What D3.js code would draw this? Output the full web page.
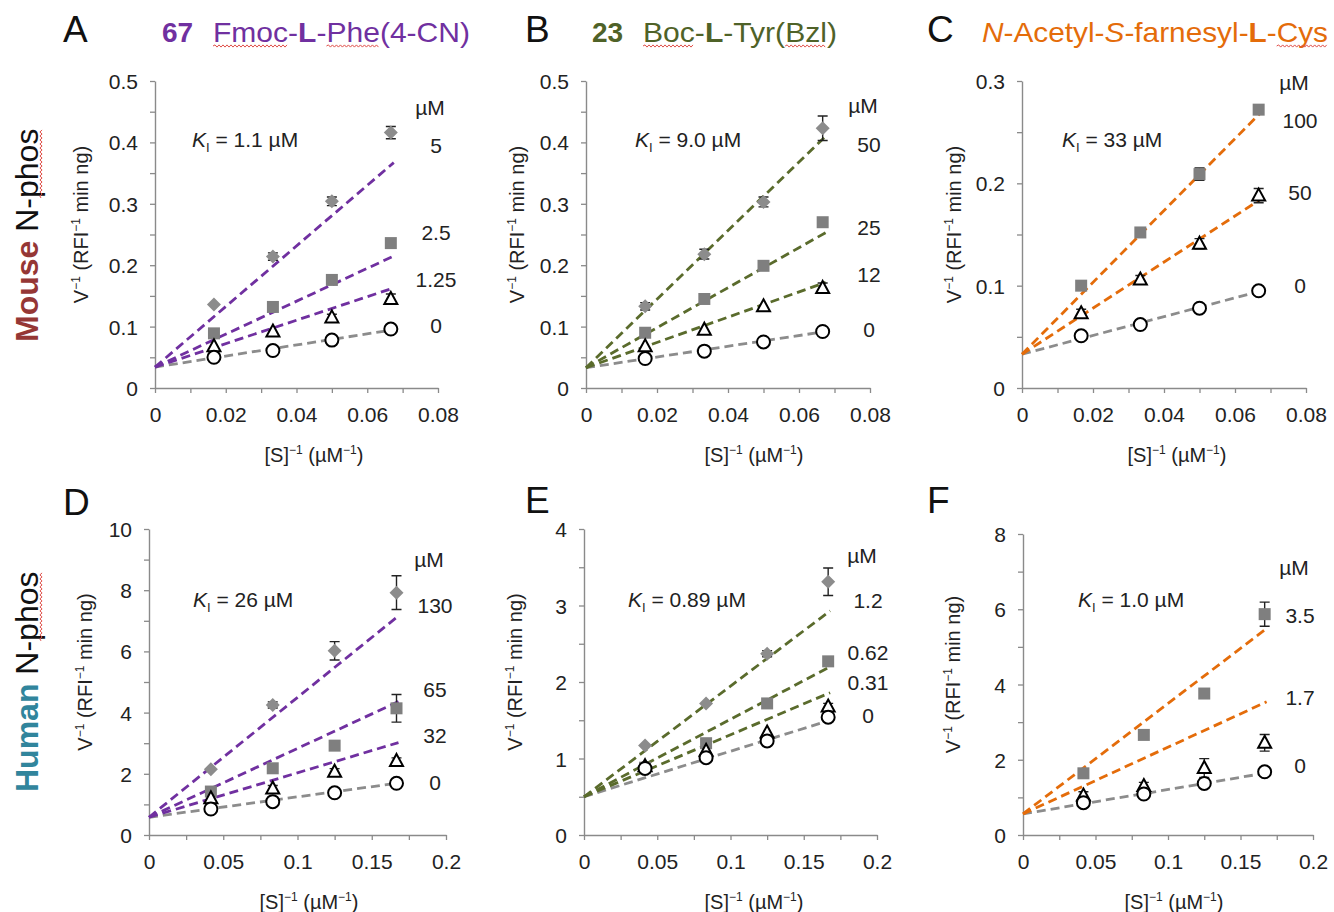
<!DOCTYPE html>
<html><head><meta charset="utf-8">
<script src="https://cdn.jsdelivr.net/npm/d3@7"></script>
<style>
body{margin:0;background:#fff}
svg{display:block}
text{font-family:"Liberation Sans",Arial,sans-serif;white-space:pre}
</style>
</head><body>
<svg id="chart" width="1334" height="912"></svg>
<script>
// ---------------- DATA ----------------
const xTop = [1/60, 1/30, 1/20, 1/15];      // [S]^-1, mouse
const xBottom = [1/24, 1/12, 1/8, 1/6];     // [S]^-1, human

const xTicksTop = [0, 0.02, 0.04, 0.06, 0.08];
const xTicksBottom = [0, 0.05, 0.1, 0.15, 0.2];
const yTicksA = [0, 0.1, 0.2, 0.3, 0.4, 0.5];
const yTicksB = [0, 0.1, 0.2, 0.3, 0.4, 0.5];
const yTicksC = [0, 0.1, 0.2, 0.3];
const yTicksD = [0, 2, 4, 6, 8, 10];
const yTicksE = [0, 1, 2, 3, 4];
const yTicksF = [0, 2, 4, 6, 8];

const panelLetters = ["A", "B", "C", "D", "E", "F"];
const kiValues = ["1.1", "9.0", "33", "26", "0.89", "1.0"];

// Panel A – Fmoc-L-Phe(4-CN), mouse
const concA = ["0", "1.25", "2.5", "5"];
const valA0 = [0.050, 0.061, 0.078, 0.096];
const valA1 = [0.068, 0.092, 0.115, 0.145];
const valA2 = [0.089, 0.132, 0.176, 0.236];
const valA3 = [0.136, 0.214, 0.304, 0.416];
const errA0 = [0.002, 0.002, 0.002, 0.002];
const errA1 = [0.003, 0.004, 0.005, 0.008];
const errA2 = [0.003, 0.003, 0.004, 0.004];
const errA3 = [0.004, 0.006, 0.007, 0.010];
const fitA = {intercept: 0.034, ends: [0.095, 0.163, 0.215, 0.367]};

// Panel B – Boc-L-Tyr(Bzl), mouse
const concB = ["0", "12", "25", "50"];
const valB0 = [0.048, 0.060, 0.075, 0.092];
const valB1 = [0.068, 0.095, 0.133, 0.163];
const valB2 = [0.090, 0.145, 0.199, 0.270];
const valB3 = [0.133, 0.218, 0.303, 0.423];
const errB0 = [0.002, 0.002, 0.002, 0.002];
const errB1 = [0.003, 0.003, 0.004, 0.008];
const errB2 = [0.003, 0.003, 0.003, 0.004];
const errB3 = [0.006, 0.008, 0.008, 0.020];
const fitB = {intercept: 0.033, ends: [0.092, 0.172, 0.253, 0.410]};

// Panel C – N-Acetyl-S-farnesyl-L-Cys, mouse
const concC = ["0", "50", "100"];
const valC0 = [0.051, 0.062, 0.078, 0.095];
const valC1 = [0.073, 0.106, 0.141, 0.188];
const valC2 = [0.100, 0.152, 0.209, 0.272];
const errC0 = [0.002, 0.002, 0.002, 0.002];
const errC1 = [0.004, 0.004, 0.005, 0.007];
const errC2 = [0.003, 0.003, 0.006, 0.003];
const fitC = {intercept: 0.033, ends: [0.095, 0.185, 0.270]};

// Panel D – Fmoc-L-Phe(4-CN), human
const concD = ["0", "32", "65", "130"];
const valD0 = [0.85, 1.09, 1.38, 1.69];
const valD1 = [1.20, 1.52, 2.07, 2.42];
const valD2 = [1.42, 2.18, 2.92, 4.14];
const valD3 = [2.15, 4.25, 6.02, 7.92];
const errD0 = [0.04, 0.05, 0.05, 0.05];
const errD1 = [0.05, 0.10, 0.10, 0.10];
const errD2 = [0.05, 0.08, 0.10, 0.45];
const errD3 = [0.08, 0.10, 0.30, 0.55];
const fitD = {intercept: 0.58, ends: [1.70, 3.02, 4.36, 7.16]};

// Panel E – Boc-L-Tyr(Bzl), human
const concE = ["0", "0.31", "0.62", "1.2"];
const valE0 = [0.87, 1.01, 1.23, 1.54];
const valE1 = [0.90, 1.10, 1.34, 1.68];
const valE2 = [0.88, 1.20, 1.72, 2.27];
const valE3 = [1.17, 1.72, 2.37, 3.31];
const errE0 = [0.02, 0.02, 0.03, 0.03];
const errE1 = [0.02, 0.03, 0.03, 0.04];
const errE2 = [0.02, 0.03, 0.03, 0.04];
const errE3 = [0.03, 0.03, 0.04, 0.18];
const fitE = {intercept: 0.50, ends: [1.50, 1.86, 2.20, 2.93]};

// Panel F – N-Acetyl-S-farnesyl-L-Cys, human
const concF = ["0", "1.7", "3.5"];
const valF0 = [0.86, 1.09, 1.37, 1.68];
const valF1 = [1.05, 1.30, 1.78, 2.45];
const valF2 = [1.64, 2.66, 3.76, 5.87];
const errF0 = [0.03, 0.03, 0.04, 0.04];
const errF1 = [0.10, 0.10, 0.25, 0.22];
const errF2 = [0.05, 0.05, 0.05, 0.32];
const fitF = {intercept: 0.56, ends: [1.65, 3.54, 5.49]};

// ---------------- STYLE / LAYOUT ----------------
const PURPLE = "#7030A0", GREEN = "#5A6B2C", ORANGE = "#E46C0A", GRAYLINE = "#8c8c8c";
const AXIS = "#8a8a8a", TXT = "#222";
const shapes = ["circle", "triangle", "square", "diamond"];

const panels = [
  {letter: panelLetters[0], ki: kiValues[0], xs: xTop, xTicks: xTicksTop, xMinor: 0.01, yTicks: yTicksA, yMinor: 0.05,
   box: [155, 438, 81, 388], color: PURPLE, conc: concA, vals: [valA0, valA1, valA2, valA3], errs: [errA0, errA1, errA2, errA3], fit: fitA, fitX: 0.0675,
   labelCx: 436, labelY: [333, 287, 240, 153], unitY: 115, kiX: 192, kiY: 147, yLabX: 88, xLabCx: 314, letterX: 63, letterY: 42},
  {letter: panelLetters[1], ki: kiValues[1], xs: xTop, xTicks: xTicksTop, xMinor: 0.01, yTicks: yTicksB, yMinor: 0.05,
   box: [586, 870, 81, 388], color: GREEN, conc: concB, vals: [valB0, valB1, valB2, valB3], errs: [errB0, errB1, errB2, errB3], fit: fitB, fitX: 0.0675,
   labelCx: 869, labelY: [337, 282, 235, 152], unitY: 113, kiX: 635, kiY: 147, yLabX: 524, xLabCx: 754, letterX: 525, letterY: 42},
  {letter: panelLetters[2], ki: kiValues[2], xs: xTop, xTicks: xTicksTop, xMinor: 0.01, yTicks: yTicksC, yMinor: 0.05,
   box: [1022, 1306, 81, 388], color: ORANGE, conc: concC, vals: [valC0, valC1, valC2], errs: [errC0, errC1, errC2], fit: fitC, fitX: 0.0675,
   labelCx: 1300, labelY: [293, 200, 128], unitY: 90, kiX: 1062, kiY: 147, yLabX: 961, xLabCx: 1177, letterX: 927, letterY: 42},
  {letter: panelLetters[3], ki: kiValues[3], xs: xBottom, xTicks: xTicksBottom, xMinor: 0.025, yTicks: yTicksD, yMinor: 1,
   box: [149, 446, 529, 835], color: PURPLE, conc: concD, vals: [valD0, valD1, valD2, valD3], errs: [errD0, errD1, errD2, errD3], fit: fitD, fitX: 0.168,
   labelCx: 435, labelY: [790, 743, 697, 613], unitY: 567, kiX: 193, kiY: 607, yLabX: 92, xLabCx: 309, letterX: 63, letterY: 515},
  {letter: panelLetters[4], ki: kiValues[4], xs: xBottom, xTicks: xTicksBottom, xMinor: 0.025, yTicks: yTicksE, yMinor: 0.5,
   box: [584, 877, 529, 835], color: GREEN, conc: concE, vals: [valE0, valE1, valE2, valE3], errs: [errE0, errE1, errE2, errE3], fit: fitE, fitX: 0.168,
   labelCx: 868, labelY: [723, 690, 660, 608], unitY: 563, kiX: 628, kiY: 607, yLabX: 522, xLabCx: 754, letterX: 525, letterY: 513},
  {letter: panelLetters[5], ki: kiValues[5], xs: xBottom, xTicks: xTicksBottom, xMinor: 0.025, yTicks: yTicksF, yMinor: 1,
   box: [1023, 1313, 534, 835], color: ORANGE, conc: concF, vals: [valF0, valF1, valF2], errs: [errF0, errF1, errF2], fit: fitF, fitX: 0.168,
   labelCx: 1300, labelY: [773, 705, 623], unitY: 575, kiX: 1078, kiY: 607, yLabX: 960, xLabCx: 1174, letterX: 927, letterY: 513}
];

const svg = d3.select("#chart");
const fmt = d => String(+d.toFixed(4));

function shapePath(shape) {
  if (shape === "triangle") return "M0,-7L6.5,5L-6.5,5Z";
  if (shape === "square") return "M-6,-6H6V6H-6Z";
  if (shape === "diamond") return "M0,-7L7,0L0,7L-7,0Z";
  return null;
}

panels.forEach(p => {
  const [l, r, t, b] = p.box;
  const xMax = p.xTicks[p.xTicks.length - 1];
  const yMax = p.yTicks[p.yTicks.length - 1];
  const x = d3.scaleLinear().domain([0, xMax]).range([l, r]);
  const y = d3.scaleLinear().domain([0, yMax]).range([b, t]);
  const g = svg.append("g");

  // axes with minor ticks
  const xAll = d3.range(0, xMax + 1e-9, p.xMinor);
  const yAll = d3.range(0, yMax + 1e-9, p.yMinor);
  const xAxis = d3.axisBottom(x).tickValues(xAll).tickSize(5).tickSizeOuter(0)
    .tickFormat(d => p.xTicks.some(v => Math.abs(v - d) < 1e-9) ? fmt(d) : "");
  const yAxis = d3.axisLeft(y).tickValues(yAll).tickSize(5).tickSizeOuter(0)
    .tickFormat(d => p.yTicks.some(v => Math.abs(v - d) < 1e-9) ? fmt(d) : "");
  const gx = g.append("g").attr("transform", `translate(0,${b})`).call(xAxis);
  const gy = g.append("g").attr("transform", `translate(${l},0)`).call(yAxis);
  [gx, gy].forEach(a => {
    a.select(".domain").attr("stroke", AXIS).attr("stroke-width", 1.4);
    a.selectAll(".tick line").attr("stroke", AXIS).attr("stroke-width", 1.3);
    a.selectAll(".tick text").attr("fill", TXT).style("font-size", "21px")
      .style("font-family", '"Liberation Sans",Arial,sans-serif');
  });
  gx.selectAll(".tick text").attr("y", 0).attr("dy", 0).attr("transform", "translate(0,34)");
  gy.selectAll(".tick text").attr("x", -17).attr("dy", "0.36em");

  // fitted (dashed) lines
  p.fit.ends.forEach((e, i) => {
    g.append("line")
      .attr("x1", x(0)).attr("y1", y(p.fit.intercept))
      .attr("x2", x(p.fitX)).attr("y2", y(e))
      .attr("stroke", i === 0 ? GRAYLINE : p.color)
      .attr("stroke-width", 2.8).attr("stroke-dasharray", "9,5");
  });

  // series: error bars and markers
  const order = d3.range(p.vals.length).reverse();
  order.forEach(si => {
    const vals = p.vals[si], errs = p.errs[si];
    const shape = si === 0 ? "circle" : shapes[si];
    const sg = g.append("g");
    vals.forEach((v, k) => {
      const cx = x(p.xs[k]);
      const e = errs[k];
      if (y(v - e) - y(v + e) > 6) {
        sg.append("path")
          .attr("d", `M${cx},${y(v - e)}V${y(v + e)}M${cx - 5},${y(v + e)}H${cx + 5}M${cx - 5},${y(v - e)}H${cx + 5}`)
          .attr("stroke", "#222").attr("stroke-width", 1.4).attr("fill", "none");
      }
      if (shape === "circle") {
        sg.append("circle").attr("cx", cx).attr("cy", y(v)).attr("r", 6.5)
          .attr("fill", "#fff").attr("stroke", "#000").attr("stroke-width", 2);
      } else if (shape === "triangle") {
        sg.append("path").attr("d", shapePath(shape)).attr("transform", `translate(${cx},${y(v)})`)
          .attr("fill", "#fff").attr("stroke", "#000").attr("stroke-width", 2).attr("stroke-linejoin", "miter");
      } else {
        sg.append("path").attr("d", shapePath(shape)).attr("transform", `translate(${cx},${y(v)})`)
          .attr("fill", shape === "square" ? "#7f7f7f" : "#8c8c8c");
      }
    });
  });

  // concentration labels
  g.append("text").attr("x", p.labelCx - 6).attr("y", p.unitY).attr("text-anchor", "middle")
    .attr("fill", TXT).style("font-size", "21px").text("µM");
  p.conc.forEach((c, i) => {
    g.append("text").attr("x", p.labelCx).attr("y", p.labelY[i]).attr("text-anchor", "middle")
      .attr("fill", TXT).style("font-size", "21px").text(c);
  });

  // KI text
  const ki = g.append("text").attr("x", p.kiX).attr("y", p.kiY).attr("fill", TXT).style("font-size", "21px");
  ki.append("tspan").style("font-style", "italic").text("K");
  ki.append("tspan").attr("dy", 5).style("font-size", "13px").text("I");
  ki.append("tspan").attr("dy", -5).text(" = " + p.ki + " µM");

  // axis titles
  const yl = g.append("text").attr("transform", `translate(${p.yLabX},${(t + b) / 2 - 10}) rotate(-90)`)
    .attr("text-anchor", "middle").attr("fill", TXT).style("font-size", "20px");
  yl.append("tspan").text("V");
  yl.append("tspan").attr("dy", -8).style("font-size", "12px").text("−1");
  yl.append("tspan").attr("dy", 8).text(" (RFI");
  yl.append("tspan").attr("dy", -8).style("font-size", "12px").text("−1");
  yl.append("tspan").attr("dy", 8).text(" min ng)");

  const xl = g.append("text").attr("x", p.xLabCx).attr("y", b + 74)
    .attr("text-anchor", "middle").attr("fill", TXT).style("font-size", "20px");
  xl.append("tspan").text("[S]");
  xl.append("tspan").attr("dy", -8).style("font-size", "12px").text("−1");
  xl.append("tspan").attr("dy", 8).text(" (µM");
  xl.append("tspan").attr("dy", -8).style("font-size", "12px").text("−1");
  xl.append("tspan").attr("dy", 8).text(")");

  // panel letter
  svg.append("text").attr("x", p.letterX).attr("y", p.letterY).attr("fill", "#111")
    .style("font-size", "37px").text(p.letter);
});

// spell-check style wavy underline under a character range of a text node
function squiggle(parent, node, i0, i1, off) {
  const s = node.getStartPositionOfChar(i0);
  const e = node.getEndPositionOfChar(i1);
  const yb = s.y + off;
  let d = `M${s.x},${yb}`;
  let k = 0;
  for (let xx = s.x + 2; xx <= e.x; xx += 2, k++) d += `L${xx},${yb + (k % 2 ? 1.1 : -1.1)}`;
  parent.append("path").attr("d", d).attr("fill", "none").attr("stroke", "#e0504a").attr("stroke-width", 1);
}

// ---------------- TITLES ----------------
function title(numX, num, nameX, nameLen, parts, color, marks) {
  if (num) {
    svg.append("text").attr("x", numX).attr("y", 42).attr("fill", color)
      .style("font-size", "28px").style("font-weight", "bold").text(num);
  }
  const tx = svg.append("text").attr("x", nameX).attr("y", 42).attr("fill", color)
    .style("font-size", "28px").attr("textLength", nameLen).attr("lengthAdjust", "spacingAndGlyphs");
  parts.forEach(pt => {
    const s = tx.append("tspan").text(pt.t);
    if (pt.b) s.style("font-weight", "bold");
    if (pt.i) s.style("font-style", "italic");
  });
  marks.forEach(m => squiggle(svg, tx.node(), m[0], m[1], 4));
}
title(162, "67", 213, 257, [{t: "Fmoc-"}, {t: "L", b: 1}, {t: "-Phe(4-CN)"}], PURPLE, [[0, 3], [7, 9]]);
title(592, "23", 643, 194, [{t: "Boc-"}, {t: "L", b: 1}, {t: "-Tyr(Bzl)"}], "#4F6228", [[0, 2], [10, 12]]);
title(0, null, 982, 346, [{t: "N", i: 1}, {t: "-Acetyl-"}, {t: "S", i: 1}, {t: "-farnesyl-"}, {t: "L", b: 1}, {t: "-Cys"}], ORANGE, [[22, 24]]);

// ---------------- ROW LABELS ----------------
function rowLabel(yStart, word, color) {
  const rg = svg.append("g").attr("transform", `translate(38,${yStart}) rotate(-90)`);
  const tx = rg.append("text").style("font-size", "32px");
  tx.append("tspan").attr("fill", color).style("font-weight", "bold").text(word);
  tx.append("tspan").attr("fill", "#111").text(" N-phos");
  squiggle(rg, tx.node(), 8, 11, 3);
}
rowLabel(342, "Mouse", "#953735");
rowLabel(792, "Human", "#31859C");
</script>
</body></html>
